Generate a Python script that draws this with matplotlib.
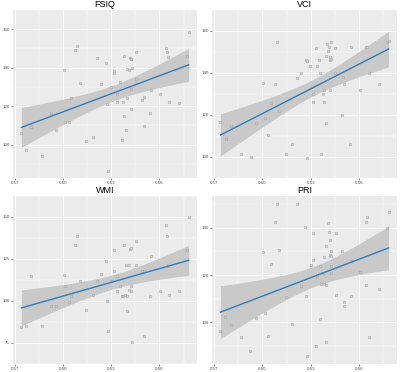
import numpy as np
import matplotlib
matplotlib.use("Agg")
import matplotlib.pyplot as plt

plt.rcParams["font.family"] = ["Liberation Sans", "DejaVu Sans"]

# FSIQ panel
fsiq_x = [0.5739, 0.5769, 0.5802, 0.5867, 0.5924, 0.5957, 0.6002, 0.6014, 0.6033, 0.6051,
          0.6076, 0.6088, 0.6102, 0.6145, 0.6184, 0.6211, 0.6238, 0.6266, 0.6272, 0.6277,
          0.6299, 0.6314, 0.6316, 0.6334, 0.6334, 0.6357, 0.6365, 0.6375, 0.6381, 0.6381,
          0.6391, 0.6396, 0.6396, 0.6408, 0.6416, 0.6420, 0.6422, 0.6420, 0.6420, 0.6426,
          0.6453, 0.6453, 0.6494, 0.6504, 0.6506, 0.6543, 0.6547, 0.6604, 0.6641, 0.6645,
          0.6651, 0.6662, 0.6723, 0.6772, 0.6782]
fsiq_y = [106.3, 97.0, 109.3, 93.9, 116.3, 107.4, 139.0, 111.9, 112.0, 124.2,
          149.2, 151.5, 131.9, 101.9, 103.8, 145.1, 131.4, 142.2, 121.2, 86.3,
          130.1, 137.5, 138.3, 126.4, 122.1, 132.5, 102.2, 122.3, 146.2, 115.1,
          107.5, 124.5, 139.1, 138.8, 144.9, 144.6, 144.3, 129.0, 118.4, 139.6,
          148.4, 134.4, 123.1, 125.0, 109.9, 116.3, 128.6, 126.1, 150.1, 148.2,
          145.7, 122.4, 121.5, 146.2, 158.4]

# VCI panel
vci_x = [0.5739, 0.5771, 0.5804, 0.5870, 0.5927, 0.5960, 0.6005, 0.6017, 0.6035, 0.6054,
         0.6078, 0.6090, 0.6104, 0.6147, 0.6186, 0.6213, 0.6239, 0.6268, 0.6274, 0.6278,
         0.6297, 0.6315, 0.6317, 0.6333, 0.6339, 0.6354, 0.6360, 0.6366, 0.6376, 0.6382,
         0.6382, 0.6394, 0.6396, 0.6401, 0.6409, 0.6413, 0.6417, 0.6421, 0.6423, 0.6425,
         0.6427, 0.6454, 0.6454, 0.6495, 0.6503, 0.6507, 0.6544, 0.6548, 0.6605, 0.6643,
         0.6651, 0.6660, 0.6725, 0.6774, 0.6784]
vci_y = [116.5, 108.4, 114.6, 101.4, 100.2, 116.3, 135.3, 118.4, 110.5, 125.7,
         134.9, 155.0, 121.9, 101.2, 106.2, 137.8, 139.8, 146.0, 145.6, 99.5,
         143.2, 129.8, 126.0, 152.1, 143.2, 146.2, 139.9, 101.6, 129.9, 131.8,
         126.1, 116.0, 148.3, 153.7, 150.4, 152.3, 147.8, 146.3, 132.0, 154.9,
         146.5, 151.7, 139.9, 120.0, 138.2, 134.8, 106.4, 152.3, 131.8, 152.3,
         152.3, 140.2, 134.8, 154.7, 155.1]

# WMI panel
wmi_x = [0.5739, 0.5769, 0.5802, 0.5867, 0.5924, 0.5957, 0.6002, 0.6014, 0.6033, 0.6051,
         0.6076, 0.6088, 0.6102, 0.6145, 0.6184, 0.6211, 0.6238, 0.6266, 0.6272, 0.6277,
         0.6299, 0.6314, 0.6314, 0.6334, 0.6338, 0.6357, 0.6365, 0.6375, 0.6381, 0.6383,
         0.6391, 0.6396, 0.6396, 0.6408, 0.6412, 0.6416, 0.6422, 0.6420, 0.6422, 0.6426,
         0.6453, 0.6453, 0.6494, 0.6504, 0.6506, 0.6543, 0.6547, 0.6604, 0.6641, 0.6645,
         0.6651, 0.6662, 0.6723, 0.6772, 0.6782]
wmi_y = [84.8, 85.1, 115.1, 85.1, 97.0, 96.9, 115.4, 108.8, 99.6, 103.0,
         133.1, 138.4, 111.7, 94.5, 103.3, 111.8, 116.2, 124.1, 99.9, 81.9,
         111.8, 130.2, 118.1, 106.0, 115.1, 109.1, 103.0, 103.0, 133.4, 103.3,
         121.2, 94.0, 103.0, 106.5, 121.2, 131.2, 131.8, 109.1, 106.0, 75.8,
         136.0, 121.2, 118.0, 118.0, 79.0, 102.8, 127.0, 106.2, 145.2, 138.4,
         120.9, 103.3, 106.0, 130.5, 150.0]

# PRI panel
pri_x = [0.5739, 0.5769, 0.5802, 0.5867, 0.5924, 0.5957, 0.6002, 0.6014, 0.6033, 0.6051,
         0.6076, 0.6088, 0.6102, 0.6145, 0.6184, 0.6211, 0.6238, 0.6266, 0.6272, 0.6277,
         0.6299, 0.6314, 0.6314, 0.6334, 0.6338, 0.6357, 0.6359, 0.6365, 0.6375, 0.6381,
         0.6381, 0.6391, 0.6394, 0.6396, 0.6408, 0.6412, 0.6416, 0.6420, 0.6422, 0.6422,
         0.6426, 0.6424, 0.6453, 0.6453, 0.6494, 0.6504, 0.6506, 0.6547, 0.6551, 0.6604,
         0.6641, 0.6645, 0.6651, 0.6662, 0.6723, 0.6772, 0.6782]
pri_y = [96.2, 102.2, 99.0, 93.8, 87.8, 102.0, 129.9, 103.8, 94.1, 124.5,
         142.4, 149.8, 130.5, 110.9, 99.2, 150.1, 115.5, 140.1, 111.0, 85.7,
         124.2, 137.8, 126.2, 90.1, 119.2, 101.5, 123.9, 116.2, 120.7, 127.8,
         116.1, 132.4, 91.9, 115.9, 142.1, 138.2, 134.8, 128.5, 130.1, 128.1,
         123.9, 120.8, 137.9, 111.5, 130.3, 108.8, 107.0, 126.0, 111.3, 121.3,
         142.5, 115.7, 144.5, 93.8, 114.0, 140.0, 146.6]

titles = ["FSIQ", "VCI", "WMI", "PRI"]
xs = [fsiq_x, vci_x, wmi_x, pri_x]
ys = [fsiq_y, vci_y, wmi_y, pri_y]
y_ticks = [[100, 120, 140, 160], [100, 120, 140, 160], [75, 100, 125, 150], [100, 120, 140]]
x_ticks = [0.57, 0.60, 0.63, 0.66]

W, H = 400, 372
# axes boxes in pixels: left, top, right, bottom
boxes = [(13, 10, 197, 178), (212, 10, 397, 178), (13, 196, 197, 364), (212, 196, 397, 364)]

fig = plt.figure(figsize=(W / 100, H / 100), dpi=100)
fig.patch.set_facecolor("white")

for i in range(4):
    l, t, r, b = boxes[i]
    ax = fig.add_axes([l / W, 1 - b / H, (r - l) / W, (b - t) / H])
    x = np.array(xs[i])
    y = np.array(ys[i])

    # linear fit with 95% confidence band
    n = len(x)
    slope, intercept = np.polyfit(x, y, 1)
    resid = y - (slope * x + intercept)
    s = np.sqrt(np.sum(resid ** 2) / (n - 2))
    xg = np.linspace(x.min(), x.max(), 80)
    yg = slope * xg + intercept
    se = s * np.sqrt(1 / n + (xg - x.mean()) ** 2 / np.sum((x - x.mean()) ** 2))
    ax.fill_between(xg, yg - 2.006 * se, yg + 2.006 * se, color="#C9C9C9",
                    linewidth=0, zorder=2)
    ax.scatter(x, y, s=3.5, facecolors="#D0D0D0", edgecolors="#A0A0A0", linewidths=0.45,
               alpha=0.8, zorder=3)
    ax.plot(xg, yg, color="#2E7EBC", linewidth=1.0, zorder=4)

    xr = x.max() - x.min()
    ax.set_xlim(x.min() - 0.05 * xr, x.max() + 0.05 * xr)
    yr = y.max() - y.min()
    ax.set_ylim(y.min() - 0.05 * yr, y.max() + 0.05 * yr)

    ax.set_facecolor("#EBEBEB")
    ax.set_xticks(x_ticks)
    ax.set_xticklabels(["0.57", "0.60", "0.63", "0.66"])
    ax.set_yticks(y_ticks[i])
    ax.set_xticks([0.585, 0.615, 0.645, 0.675], minor=True)
    yt = y_ticks[i]
    step = yt[1] - yt[0]
    ax.set_yticks([v - step / 2 for v in yt] + [yt[-1] + step / 2], minor=True)
    ax.grid(which="major", color="white", linewidth=0.7)
    ax.grid(which="minor", color="white", linewidth=0.35)
    ax.set_axisbelow(True)
    for sp in ax.spines.values():
        sp.set_visible(False)
    ax.tick_params(which="major", length=1.5, width=0.4, color="#333333",
                   labelsize=3.2, labelcolor="#4D4D4D", pad=1)
    ax.tick_params(which="minor", length=0)
    ax.set_title(titles[i], fontsize=6.5, pad=2, color="black")

fig.savefig("out.png", dpi=100)
